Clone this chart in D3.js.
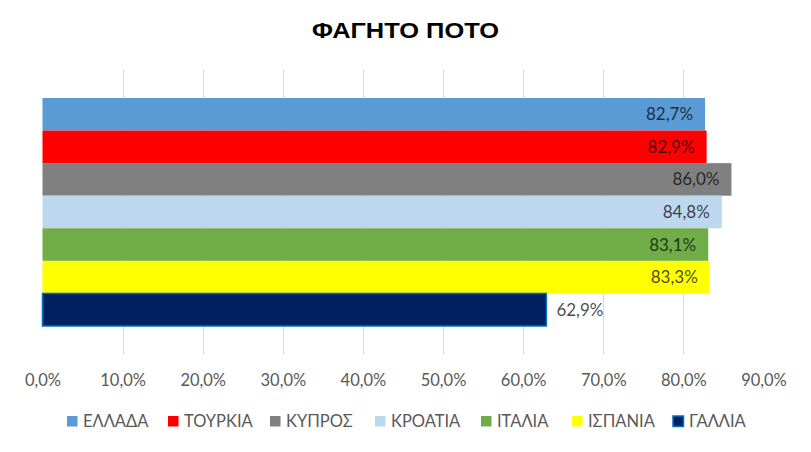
<!DOCTYPE html>
<html>
<head>
<meta charset="utf-8">
<script src="https://cdn.jsdelivr.net/npm/d3@7"></script>
<style>
  html, body { margin: 0; padding: 0; background: #fff; }
  svg { display: block; }
</style>
</head>
<body>
<svg id="chart" width="811" height="452"></svg>
<script>
const title = "ΦΑΓΗΤΟ ΠΟΤΟ";
const countries = ["ΕΛΛΑΔΑ", "ΤΟΥΡΚΙΑ", "ΚΥΠΡΟΣ", "ΚΡΟΑΤΙΑ", "ΙΤΑΛΙΑ", "ΙΣΠΑΝΙΑ", "ΓΑΛΛΙΑ"];
const values = [0.827, 0.829, 0.860, 0.848, 0.831, 0.833, 0.629];
const colors = ["#5B9BD5", "#FF0000", "#808080", "#BDD7EE", "#70AD47", "#FFFF00", "#002060"];
const tickValues = [0, 0.1, 0.2, 0.3, 0.4, 0.5, 0.6, 0.7, 0.8, 0.9];
const tickLabels = ["0,0%", "10,0%", "20,0%", "30,0%", "40,0%", "50,0%", "60,0%", "70,0%", "80,0%", "90,0%"];
const insideLabel = [true, true, true, true, true, true, false];

const svg = d3.select("#chart");
const font = "Lato, 'Open Sans', 'Noto Sans', sans-serif";
const fmt = v => (v * 100).toFixed(1).replace(".", ",") + "%";

const x = d3.scaleLinear().domain([0, 0.9]).range([42.5, 763.5]);
const y = d3.scaleBand().domain(countries).range([98, 326]).padding(0);

// title
svg.append("text")
  .attr("x", 405.5).attr("y", 37.5)
  .attr("text-anchor", "middle")
  .attr("font-family", "'Liberation Sans', Arial, sans-serif")
  .attr("font-weight", "bold")
  .attr("font-size", 21.5)
  .attr("textLength", 187)
  .attr("lengthAdjust", "spacingAndGlyphs")
  .attr("fill", "#000")
  .text(title);

// gridlines (Excel shows 10%..80%)
svg.append("g").selectAll("line")
  .data(tickValues.filter(t => t > 0 && t < 0.85))
  .join("line")
  .attr("x1", d => Math.round(x(d)) + 0.5).attr("x2", d => Math.round(x(d)) + 0.5)
  .attr("y1", 70).attr("y2", 354)
  .attr("stroke", "#D9D9D9").attr("stroke-width", 1);

// axis labels via d3 axis
const axis = d3.axisBottom(x)
  .tickValues(tickValues)
  .tickFormat((d, i) => tickLabels[i])
  .tickSize(0).tickPadding(0);
const ag = svg.append("g").attr("transform", "translate(0,374)").call(axis);
ag.select(".domain").remove();
ag.selectAll("text")
  .attr("font-family", font).attr("font-size", 16.5)
  .attr("fill", "#595959").attr("dy", "0.71em").attr("y", 0);

// bars
svg.append("g").selectAll("rect")
  .data(countries)
  .join("rect")
  .attr("x", x(0))
  .attr("y", d => y(d))
  .attr("width", (d, i) => x(values[i]) - x(0))
  .attr("height", y.bandwidth())
  .attr("fill", (d, i) => colors[i])
  .attr("stroke", (d, i) => i === 6 ? "#0070C0" : "none")
  .attr("stroke-width", 1.5);

// data labels
svg.append("g").selectAll("text")
  .data(countries)
  .join("text")
  .attr("x", (d, i) => insideLabel[i] ? x(values[i]) - 12 : x(values[i]) + 10)
  .attr("y", d => y(d) + y.bandwidth() / 2)
  .attr("dy", "0.35em")
  .attr("text-anchor", (d, i) => insideLabel[i] ? "end" : "start")
  .attr("font-family", font).attr("font-size", 17)
  .attr("fill", "#000").attr("fill-opacity", 0.72)
  .text((d, i) => fmt(values[i]));

// legend
const legendX = [67, 168, 270, 375, 481, 572, 673];
const lg = svg.append("g");
countries.forEach((c, i) => {
  const g = lg.append("g").attr("transform", `translate(${legendX[i]},416)`);
  g.append("rect").attr("width", 10.5).attr("height", 10.5)
    .attr("fill", colors[i])
    .attr("stroke", i === 6 ? "#0070C0" : "none").attr("stroke-width", 1.5);
  g.append("text").attr("x", 16).attr("y", 5.25).attr("dy", "0.36em")
    .attr("font-family", font).attr("font-size", 16.5).attr("fill", "#595959")
    .text(c);
});
</script>
</body>
</html>
